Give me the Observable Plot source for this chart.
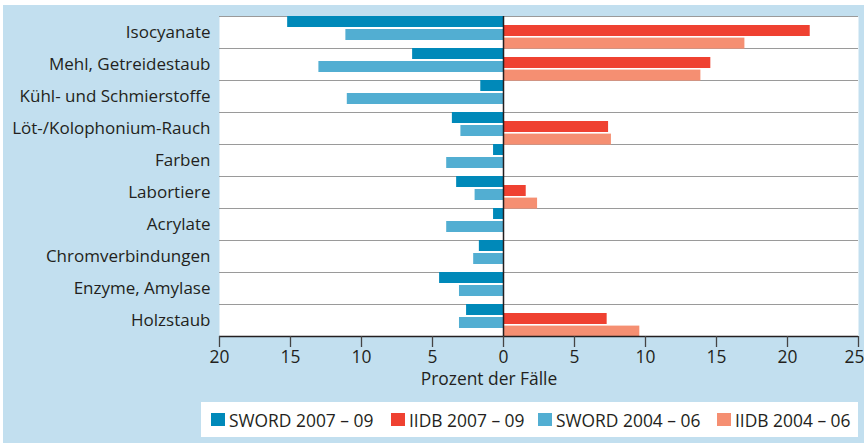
<!DOCTYPE html>
<html>
<head>
<meta charset="utf-8">
<script src="https://cdn.jsdelivr.net/npm/d3@7"></script>
<script src="https://cdn.jsdelivr.net/npm/@observablehq/plot@0.6"></script>
<style>
  html, body { margin: 0; padding: 0; background: #ffffff; overflow: hidden; }
  body { font-family: "Open Sans", sans-serif; color: #231f20; }
  #panel { position: absolute; left: 3px; top: 5px; width: 861px; height: 438px; background: #c2dfef; }
  #chart { position: absolute; left: 0; top: 0; }
  #chart svg { overflow: visible; }
  #legend { position: absolute; left: 198px; top: 397px; width: 657px; height: 35px; background: #ffffff;
            font-size: 17.4px; }
  .item { position: absolute; top: 0; height: 35px; display: flex; align-items: center; white-space: nowrap; }
  .sw { width: 14px; height: 13px; margin-right: 4px; display: inline-block; }
</style>
</head>
<body>
<div id="panel">
  <div id="chart"></div>
  <div id="legend"></div>
</div>
<script>
const categories = [
  "Isocyanate",
  "Mehl, Getreidestaub",
  "Kühl- und Schmierstoffe",
  "Löt-/Kolophonium-Rauch",
  "Farben",
  "Labortiere",
  "Acrylate",
  "Chromverbindungen",
  "Enzyme, Amylase",
  "Holzstaub"
];
const seriesNames = ["SWORD 2007 – 09", "IIDB 2007 – 09", "SWORD 2004 – 06", "IIDB 2004 – 06"];
const sword0709 = [15.2, 6.4, 1.6, 3.6, 0.7, 3.3, 0.7, 1.7, 4.5, 2.6];
const iidb0709  = [21.6, 14.6, 0, 7.4, 0, 1.6, 0, 0, 0, 7.3];
const sword0406 = [11.1, 13.0, 11.0, 3.0, 4.0, 2.0, 4.0, 2.1, 3.1, 3.1];
const iidb0406  = [17.0, 13.9, 0, 7.6, 0, 2.4, 0, 0, 0, 9.6];
const xTicks = [-20, -15, -10, -5, 0, 5, 10, 15, 20, 25];
const xLabel = "Prozent der Fälle";

const colors = ["#0089b9", "#ef4131", "#52aed2", "#f58f72"];

// layout of the four bars inside each category band (band = 32px)
const layout = [
  {values: sword0709, sign: -1, off: 0},
  {values: iidb0709,  sign:  1, off: 9},
  {values: sword0406, sign: -1, off: 13},
  {values: iidb0406,  sign:  1, off: 21.6}
];
const barH = 11, bandPx = 32;

const rows = layout.flatMap((s, k) => categories.map((c, i) => ({
  series: seriesNames[k],
  category: c,
  x1: 0,
  x2: s.sign * s.values[i],
  y1: i + s.off / bandPx,
  y2: i + (s.off + barH) / bandPx
}))).filter(d => d.x2 !== 0);

const lastTick = xTicks[xTicks.length - 1];
const chart = Plot.plot({
  width: 861,
  height: 392,
  marginLeft: 216,
  marginRight: 6,
  marginTop: 11,
  marginBottom: 61,
  style: {background: "transparent", fontFamily: "'Open Sans', sans-serif", fontSize: "17.4px", color: "#231f20"},
  x: {domain: [-20, 25]},
  y: {domain: [0, categories.length], reverse: true},
  color: {domain: seriesNames, range: colors},
  marks: [
    Plot.frame({fill: "white", stroke: "none"}),
    Plot.ruleY(d3.range(0, categories.length), {stroke: "#9a9a9a", strokeWidth: 1.2}),
    Plot.rect(rows, {x1: "x1", x2: "x2", y1: "y1", y2: "y2", fill: "series"}),
    Plot.ruleX([0], {stroke: "#231f20", strokeWidth: 1.5}),
    Plot.ruleY([categories.length], {stroke: "#231f20", strokeWidth: 1.5}),
    Plot.axisX({ticks: xTicks, tickFormat: null, text: null, tickSize: 11, label: null,
                stroke: "#444", strokeWidth: 1.3}),
    Plot.axisX({ticks: xTicks.slice(0, -1), tickFormat: d => Math.abs(d), tickSize: 0, tickPadding: 14,
                label: null, fontSize: 17.4}),
    Plot.axisX({ticks: [lastTick], tickFormat: d => Math.abs(d), tickSize: 0, tickPadding: 14, dx: -4,
                label: null, fontSize: 17.4}),
    Plot.axisY({ticks: categories.map((d, i) => i + 0.5), tickFormat: d => categories[Math.floor(d)],
                tickSize: 0, tickPadding: 9, label: null, fontSize: 17}),
    Plot.text([xLabel], {frameAnchor: "bottom", dx: -50, dy: 48.5, text: d => d, fontSize: 17.4, fill: "#231f20"})
  ]
});
document.getElementById("chart").appendChild(chart);

const legendX = [10, 190, 337, 516];
const legend = document.getElementById("legend");
seriesNames.forEach((name, k) => {
  const item = document.createElement("div");
  item.className = "item";
  item.style.left = legendX[k] + "px";
  item.innerHTML = `<span class="sw" style="background:${colors[k]}"></span><span>${name}</span>`;
  legend.appendChild(item);
});
</script>
</body>
</html>
